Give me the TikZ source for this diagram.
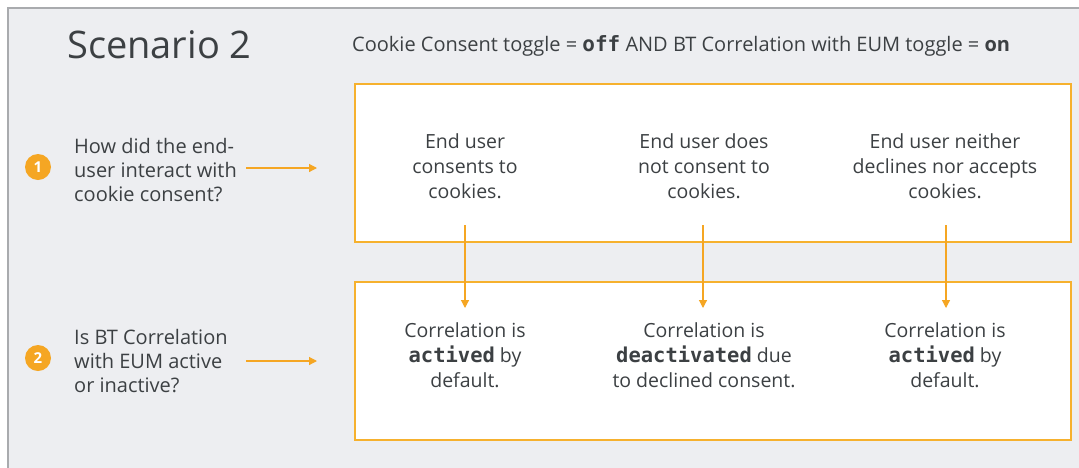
\documentclass[tikz,border=0pt]{standalone}
\usepackage{fontspec}
\setmainfont{Open Sans}
\setmonofont[Scale=1.05]{DejaVu Sans Mono}
\usetikzlibrary{arrows.meta}
\definecolor{panelbg}{HTML}{EDEEF1}
\definecolor{panelborder}{HTML}{A9ABAE}
\definecolor{gold}{HTML}{F6B12E}
\definecolor{arrowc}{HTML}{F5A623}
\definecolor{txtc}{HTML}{3C4043}
\begin{document}
\begin{tikzpicture}[x=1pt,y=-1pt,
  coltext/.style={font=\fontsize{19.5}{25}\selectfont, text=txtc, align=center, inner sep=0pt},
  lefttext/.style={font=\fontsize{20}{24.3}\selectfont, text=txtc, align=left, anchor=west, inner sep=0pt},
  goldbox/.style={draw=gold, line width=2.8pt, fill=white, minimum width=716pt, minimum height=158pt, inner sep=0pt},
  badge/.style={circle, fill=arrowc, text=white, minimum size=26pt, inner sep=0pt, font=\fontsize{15}{15}\selectfont\bfseries},
  arr/.style={draw=arrowc, line width=1.2pt, -{Triangle[length=8pt,width=8pt]}}
]
\useasboundingbox (0,0) rectangle (1079,467);
\fill[white] (0,0) rectangle (1079,467);
\draw[draw=panelborder, fill=panelbg, line width=1.3pt] (8,8) rectangle (1095,485);

\node[anchor=west, inner sep=0pt, text=txtc, font=\fontsize{38}{44}\selectfont] (title) at (67,45) {Scenario 2};
\node[anchor=west, inner sep=0pt, text=txtc, font=\fontsize{20}{24}\selectfont] (sub) at (352,46)
  {Cookie Consent toggle = \textbf{\texttt{off}} AND BT Correlation with EUM toggle = \textbf{on}};

\node[goldbox] (top) at (713,163) {};
\node[goldbox] (bot) at (713,361) {};

\node[badge] (c1) at (38,167) {1};
\node[badge] (c2) at (38,358) {2};

\node[lefttext] (q1) at (74,170) {How did the end-\\user interact with\\cookie consent?};
\node[lefttext] (q2) at (74,361) {Is BT Correlation\\with EUM active\\or inactive?};

\coordinate (h1s) at (246,168); \coordinate (h1e) at (317,168);
\coordinate (h2s) at (246,361); \coordinate (h2e) at (317,361);
\draw[arr] (h1s) -- (h1e);
\draw[arr] (h2s) -- (h2e);

\node[coltext] (t1) at (465,166) {End user\\consents to\\cookies.};
\node[coltext] (t2) at (704,166) {End user does\\not consent to\\cookies.};
\node[coltext] (t3) at (945,166) {End user neither\\declines nor accepts\\cookies.};

\node[coltext] (b1) at (465,355) {Correlation is\\\textbf{\texttt{actived}} by\\default.};
\node[coltext] (b2) at (704,355) {Correlation is\\\textbf{\texttt{deactivated}} due\\to declined consent.};
\node[coltext] (b3) at (945,355) {Correlation is\\\textbf{\texttt{actived}} by\\default.};

\coordinate (v1s) at (465,225); \coordinate (v1e) at (465,308);
\coordinate (v2s) at (703,225); \coordinate (v2e) at (703,308);
\coordinate (v3s) at (946,225); \coordinate (v3e) at (946,308);
\draw[arr] (v1s) -- (v1e);
\draw[arr] (v2s) -- (v2e);
\draw[arr] (v3s) -- (v3e);
\end{tikzpicture}
\end{document}
